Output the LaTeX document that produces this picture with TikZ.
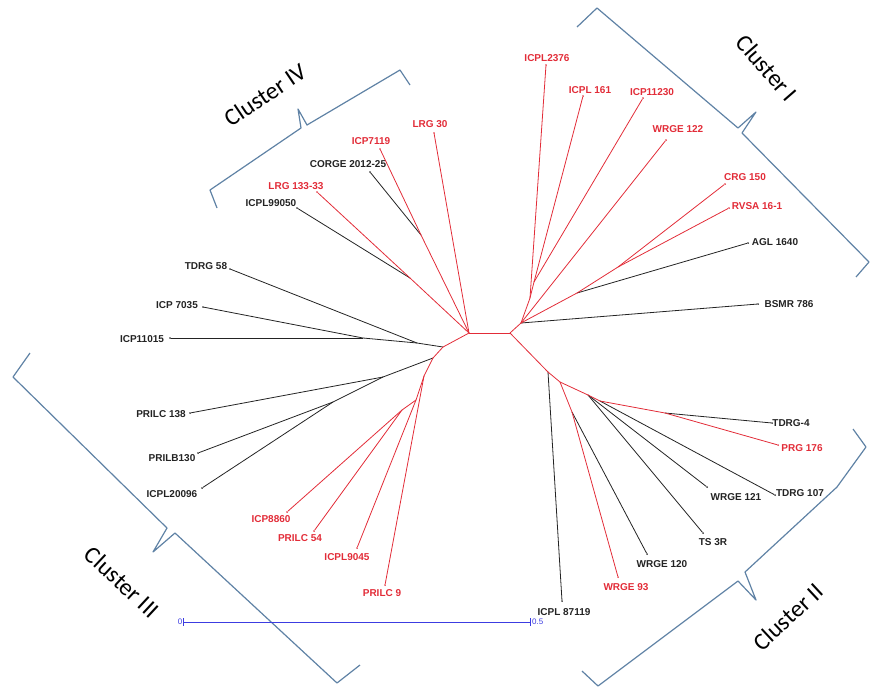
\documentclass[tikz,border=0pt]{standalone}
\usepackage{fontspec}
\setmainfont{Liberation Sans}
\newfontfamily\clusterfont{Carlito}
\definecolor{treered}{RGB}{226,44,56}
\definecolor{treeblack}{RGB}{35,35,35}
\definecolor{bracecol}{RGB}{95,130,165}
\definecolor{scaleblue}{RGB}{60,60,225}
\begin{document}
\begin{tikzpicture}[x=1pt, y=-1pt,
	leafdot/.style={circle, fill=#1, inner sep=0.7pt},
	lbl/.style={font=\fontsize{10}{11}\selectfont\bfseries, inner sep=0pt, text=#1},
	branch/.style={draw=#1, line width=0.8pt},
	bracket/.style={bracecol, line width=1.2pt, line join=round},
	cluster/.style={font=\clusterfont\fontsize{24}{26}\selectfont, inner sep=0pt},
	scaletxt/.style={font=\fontsize{8}{9}\selectfont, text=scaleblue, inner sep=1pt}]
	\useasboundingbox (0,0) rectangle (872,697);
	\foreach \nm/\x/\y in {L0/469/333, R0/510/333, IVa/421/235, IVb/410/278, L1/443/347, Ba/417/343, Bb/363/338,
		L2/433/358, Bc/383/377, Bd/333/402, L3/424/376, L4/416/400, L5/402/410,
		Ra/521/323, Rb/530/298, Rc/534/282, Rf/577/293, Rg/618/267,
		Rl1/548/372, Rl2/560/382, Rl3/572/412, Rl4/588/395, Rl5/600/401, Rl6/665/413}{
		\coordinate (\nm) at (\x,\y);
	}
	% leaves: name/tip x/tip y/label x/label y/text/colour
	\foreach \nm/\x/\y/\lx/\ly/\txt/\col in {
		lrg30/434/133/430/124/LRG 30/treered,
		icp7119/380/149/371/141/ICP7119/treered,
		corge/370/172/348/164/CORGE 2012-25/treeblack,
		lrg133/317/192/296/186/LRG 133-33/treered,
		icpl99050/297/208/271/203/ICPL99050/treeblack,
		tdrg58/230/269/206/266/TDRG 58/treeblack,
		icp7035/203/307/177/305/ICP 7035/treeblack,
		icp11015/170/338/142/339/ICP11015/treeblack,
		prilc138/190/413/161/414/PRILC 138/treeblack,
		prilb130/198/453/172/458/PRILB130/treeblack,
		icpl20096/202/488/172/494/ICPL20096/treeblack,
		icp8860/287/512/271/519/ICP8860/treered,
		prilc54/314/531/300/538/PRILC 54/treered,
		icpl9045/357/548/347/557/ICPL9045/treered,
		prilc9/385/585/382/593/PRILC 9/treered,
		icpl87119/562/601/564/612/ICPL 87119/treeblack,
		wrge93/618/577/626/587/WRGE 93/treered,
		wrge120/647/554/662/564/WRGE 120/treeblack,
		ts3r/703/533/713/542/TS 3R/treeblack,
		wrge121/707/487/736/497/WRGE 121/treeblack,
		tdrg107/775/495/800/493/TDRG 107/treeblack,
		prg176/778/445/802/448/PRG 176/treered,
		tdrg4/772/423/791/423/TDRG-4/treeblack,
		bsmr/758/304/789/304/BSMR 786/treeblack,
		agl/748/243/775/242/AGL 1640/treeblack,
		rvsa/729/208/757/206/RVSA 16-1/treered,
		crg150/725/184/745/177/CRG 150/treered,
		wrge122/666/140/678/129/WRGE 122/treered,
		icp11230/643/98/652/92/ICP11230/treered,
		icpl161/583/96/590/90/ICPL 161/treered,
		icpl2376/546/65/547/58/ICPL2376/treered}{
		\node[leafdot=\col] (\nm) at (\x,\y) {};
		\node[lbl=\col] (\nm-l) at (\lx,\ly) {\txt};
	}
	\foreach \a/\b in {IVa/corge, IVb/icpl99050, L1/Ba, Ba/tdrg58, Ba/Bb, Bb/icp7035, Bb/icp11015,
		L2/Bc, Bc/prilc138, Bc/Bd, Bd/prilb130, Bd/icpl20096, Ra/bsmr, Rf/agl, Rl1/icpl87119,
		Rl3/wrge120, Rl4/ts3r, Rl4/wrge121, Rl5/tdrg107, Rl6/tdrg4}{
		\draw[branch=treeblack] (\a) -- (\b);
	}
	\foreach \a/\b in {L0/R0, L0/IVa, IVa/icp7119, L0/IVb, IVb/lrg133, L0/lrg30, L0/L1, L1/L2, L2/L3,
		L3/prilc9, L3/L4, L4/icpl9045, L4/L5, L5/icp8860, L5/prilc54,
		R0/Ra, Ra/Rb, Rb/icpl2376, Rb/Rc, Rc/icpl161, Rc/icp11230, Ra/wrge122, Ra/Rf, Rf/Rg,
		Rg/crg150, Rg/rvsa, R0/Rl1, Rl1/Rl2, Rl2/Rl3, Rl3/wrge93, Rl2/Rl4, Rl4/Rl5, Rl5/Rl6, Rl6/prg176}{
		\draw[branch=treered] (\a) -- (\b);
	}
	\draw[bracket] (577,27) -- (597,8) -- (738,128) -- (756,112) -- (742,133) -- (869,262) -- (856,277);
	\draw[bracket] (217,208) -- (210,190) -- (301,128) -- (298,109) -- (307,125) -- (400,70) -- (410,85);
	\draw[bracket] (30,353) -- (13,377) -- (167,528) -- (153,552) -- (175,533) -- (337,683) -- (360,665);
	\draw[bracket] (853,429) -- (866,447) -- (837,487) -- (745,572) -- (756,600) -- (738,581) -- (598,686) -- (582,671);
	\node[cluster, rotate=-49] (c1) at (767,68) {Cluster I};
	\node[cluster, rotate=43] (c2) at (788,617) {Cluster II};
	\node[cluster, rotate=-43] (c3) at (122,582) {Cluster III};
	\node[cluster, rotate=34] (c4) at (265,95) {Cluster IV};
	\node[scaletxt] (s0) at (180,622) {0};
	\node[scaletxt, anchor=west] (s5) at (531,622) {0.5};
	\draw[scaleblue, line width=0.8pt, |-|] (s0) -- (s5);
\end{tikzpicture}
\end{document}
